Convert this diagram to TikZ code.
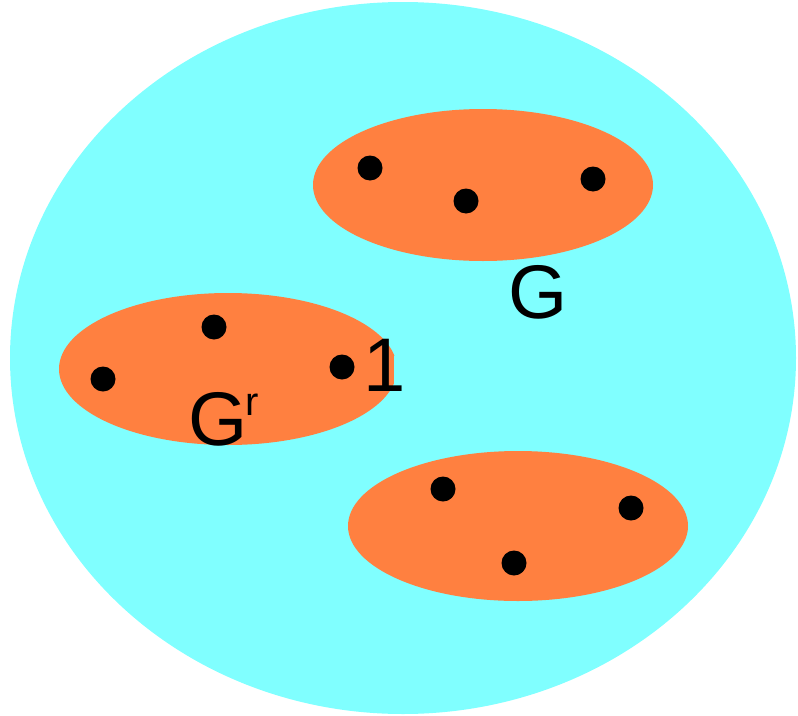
\documentclass[tikz,border=0pt]{standalone}
\usepackage{fontspec}
\setmainfont{Liberation Sans}
\definecolor{skycyan}{RGB}{128,255,255}
\definecolor{setorange}{RGB}{255,128,64}
\tikzset{
  dotmark/.style={fill=black},
  biglabel/.style={inner sep=0pt,anchor=base,font=\fontsize{76}{80}\selectfont}
}
\begin{document}
\begin{tikzpicture}[x=1pt,y=-1pt]
\useasboundingbox (0,0) rectangle (798,715);
% big set
\fill[skycyan] (403,358) ellipse [x radius=393pt, y radius=356pt];
% subsets
\fill[setorange] (483,185) ellipse [x radius=170pt, y radius=76pt];
\fill[setorange] (228,369) ellipse [x radius=169pt, y radius=76pt];
\fill[setorange] (518,526) ellipse [x radius=170pt, y radius=75pt];
\fill[skycyan] (394,356) rectangle (399,384);
% points
\foreach \p in {(370,168),(466,201),(593,179),(214,327),(103,379),(342,367),(443,489),(631,508),(514,563)}
  \fill[dotmark] \p circle [radius=12.5pt];
% labels
\node[biglabel] (g) at (538,318) {G};
\node[biglabel] (one) at (385,391) {1};
\node[biglabel,anchor=base west] (gr) at (188,445) {G\kern-2pt\raisebox{30pt}{\fontsize{40}{40}\selectfont r}};
\end{tikzpicture}
\end{document}
